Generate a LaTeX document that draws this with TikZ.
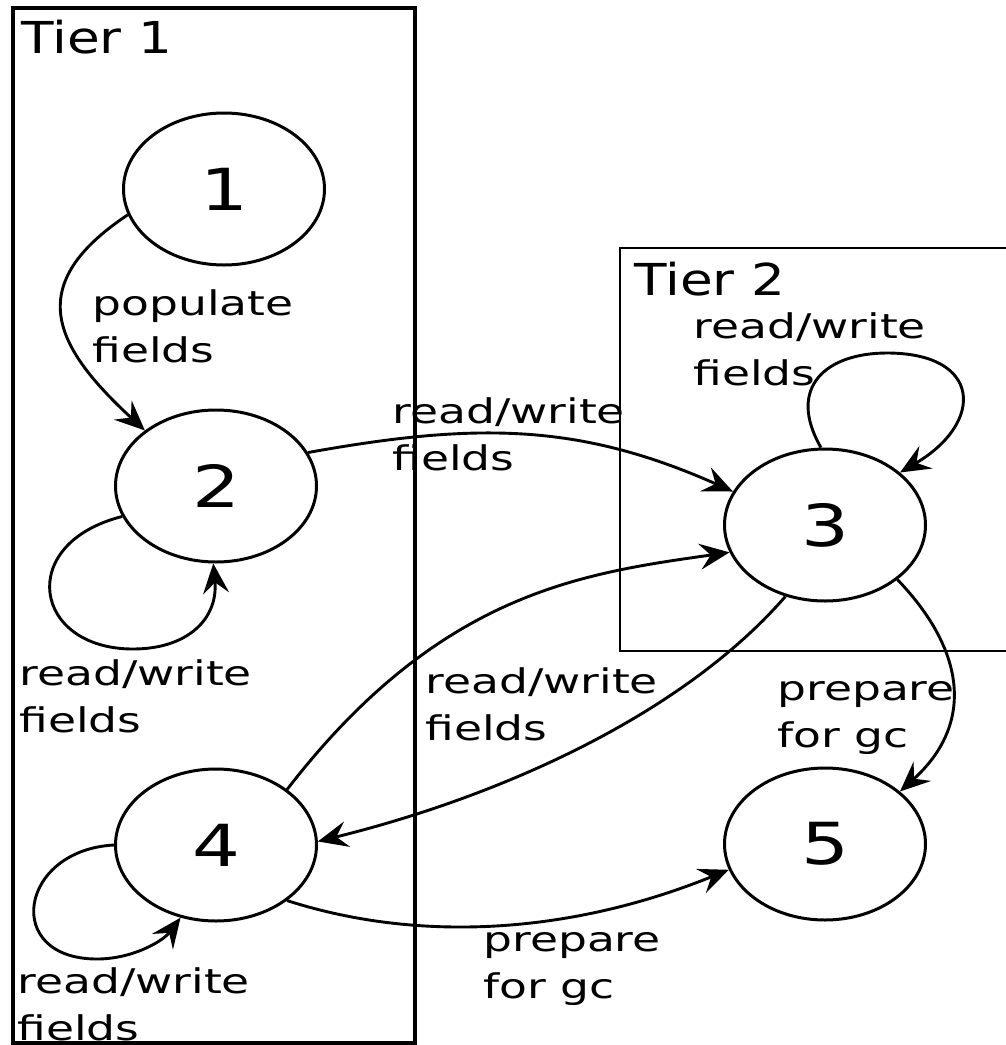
\documentclass[tikz,border=0pt]{standalone}
\usepackage{fontspec}
\setmainfont{DejaVu Sans}
\usetikzlibrary{arrows.meta,shapes.geometric}
\newcommand\lbl[1]{\scalebox{1.34}[1]{\begin{tabular}[t]{@{}l@{}}#1\end{tabular}}}
\newcommand\tierlbl[1]{\scalebox{1.21}[1]{#1}}
\newcommand\numlbl[1]{\scalebox{1.3}[1]{#1}}
\begin{document}
\begin{tikzpicture}[x=0.5pt,y=-0.5pt,
  stnode/.style={draw, ellipse, line width=1.5pt, minimum width=100.5pt, minimum height=76pt, inner sep=0pt, font=\fontsize{29}{29}\selectfont},
  edge/.style={line width=1.45pt, -{Stealth[length=15pt,width=13pt,inset=5.5pt]}},
  lab/.style={anchor=base west, inner sep=0pt, font=\fontsize{17}{23.5}\selectfont},
  tier/.style={anchor=base west, inner sep=0pt, font=\fontsize{22}{22}\selectfont},
  tierbox/.style={draw, line width=1.6pt}]
\useasboundingbox (0,0) rectangle (1006,1045);
\fill[white] (0,0) rectangle (1006,1045);
% tier frames
\draw[tierbox] (13,8) rectangle (415,1043);
\draw[tierbox, line width=1.4pt] (620,248) rectangle (1030,651);
\node[tier] (t1) at (21,53) {\tierlbl{Tier 1}};
\node[tier] (t2) at (634,295) {\tierlbl{Tier 2}};
% states
\node[stnode] (n1) at (224,189) {\numlbl{1}};
\node[stnode] (n2) at (216,486) {\numlbl{2}};
\node[stnode] (n4) at (216,845) {\numlbl{4}};
\node[stnode] (n3) at (825,525) {\numlbl{3}};
\node[stnode] (n5) at (825,844) {\numlbl{5}};
% helper points on the self loops
\coordinate (b2) at (133,649);
\coordinate (b4) at (97,959);
\coordinate (b3) at (887,353);
% transitions
\draw[edge] (n1.195) .. controls +(-105,70) and +(-92,-85) .. (n2.142);
\draw[edge] (n2.198) .. controls +(-107,27) and +(-100,0) .. (b2)
                     .. controls +(55,0) and +(5,55) .. (n2.268);
\draw[edge] (n4.180) .. controls +(-95,5) and +(-95,0) .. (b4)
                     .. controls +(35,0) and +(-18,24) .. (n4.244);
\draw[edge] (n3.93) .. controls +(-35,-61) and +(-60,0) .. (b3)
                    .. controls +(95,0) and +(85,-50) .. (n3.35);
\draw[edge] (n2.20) .. controls +(167,-30) and +(-155,-69) .. (n3.160);
\draw[edge] (n4.38) .. controls +(152,-197) and +(-148,21) .. (n3.196);
\draw[edge] (n3.241) .. controls +(-98,113) and +(194,-48) .. (n4.2);
\draw[edge] (n3.323) .. controls +(69,72) and +(74,-67) .. (n5.35);
\draw[edge] (n4.322) .. controls +(124,40) and +(-167,67.5) .. (n5.195);
% labels
\node[lab] (l12) at (92,315) {\lbl{populate\\fields}};
\node[lab] (l22) at (19,685) {\lbl{read/write\\fields}};
\node[lab] (l44) at (17,993) {\lbl{read/write\\fields}};
\node[lab] (l23) at (392,423) {\lbl{read/write\\fields}};
\node[lab] (l33) at (693,338) {\lbl{read/write\\fields}};
\node[lab] (l34) at (425,693) {\lbl{read/write\\fields}};
\node[lab] (l35) at (777,700) {\lbl{prepare\\for gc}};
\node[lab] (l45) at (483,951) {\lbl{prepare\\for gc}};
\end{tikzpicture}
\end{document}
